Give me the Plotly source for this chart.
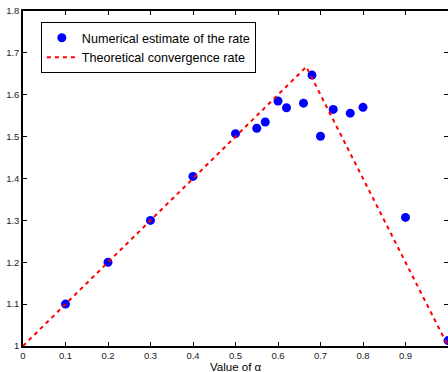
import plotly.graph_objects as go

alpha = [0.1, 0.2, 0.3, 0.4, 0.5, 0.55, 0.57, 0.6, 0.62, 0.66, 0.68, 0.7, 0.73, 0.77, 0.8, 0.9, 1.0]
rate = [1.10, 1.20, 1.30, 1.405, 1.507, 1.520, 1.535, 1.585, 1.569, 1.580, 1.647, 1.501, 1.565, 1.556, 1.570, 1.307, 1.013]

theory_alpha = [0.0, 2/3, 1.0]
theory_rate = [1.0, 5/3, 1.0]

x_ticks = [0, 0.1, 0.2, 0.3, 0.4, 0.5, 0.6, 0.7, 0.8, 0.9, 1.0]
x_tick_labels = ["0", "0.1", "0.2", "0.3", "0.4", "0.5", "0.6", "0.7", "0.8", "0.9", "1"]
y_ticks = [1.0, 1.1, 1.2, 1.3, 1.4, 1.5, 1.6, 1.7, 1.8]
y_tick_labels = ["1", "1.1", "1.2", "1.3", "1.4", "1.5", "1.6", "1.7", "1.8"]

FONT = "Liberation Sans, Arial, sans-serif"

fig = go.Figure()
fig.add_trace(go.Scatter(
    x=alpha, y=rate, mode="markers", name="Numerical estimate of the rate",
    marker=dict(color="#0000ff", size=9), cliponaxis=False,
))
fig.add_trace(go.Scatter(
    x=theory_alpha, y=theory_rate, mode="lines", name="Theoretical convergence rate",
    line=dict(color="#ff0000", width=2, dash="4px,4px"),
))

axis_common = dict(
    showgrid=False, zeroline=False, showline=True, linecolor="black", linewidth=1.5,
    mirror="ticks", ticks="inside", ticklen=4, tickcolor="black", automargin=False,
    tickfont=dict(family=FONT, size=9.5, color="#222"),
)

fig.update_layout(
    width=448, height=372,
    margin=dict(l=23, r=0, t=11, b=26, autoexpand=False),
    paper_bgcolor="white", plot_bgcolor="white",
    showlegend=True,
    legend=dict(
        x=0.042, y=0.967, xanchor="left", yanchor="top",
        bordercolor="black", borderwidth=1, bgcolor="white",
        font=dict(family=FONT, size=12.6, color="black"),
        tracegroupgap=0, itemwidth=30,
    ),
    xaxis=dict(range=[0, 1], tickvals=x_ticks, ticktext=x_tick_labels, **axis_common),
    yaxis=dict(range=[1, 1.8], tickvals=y_ticks, ticktext=y_tick_labels, **axis_common),
    annotations=[dict(
        text="Value of α", xref="paper", yref="paper", x=0.5, y=-0.063,
        xanchor="center", yanchor="middle", showarrow=False,
        font=dict(family=FONT, size=11.5, color="black"),
    )],
)

fig.write_html(
    "out.html",
    config={"displayModeBar": False},
    post_script="document.body.style.margin='0';document.body.style.overflow='hidden';",
)
